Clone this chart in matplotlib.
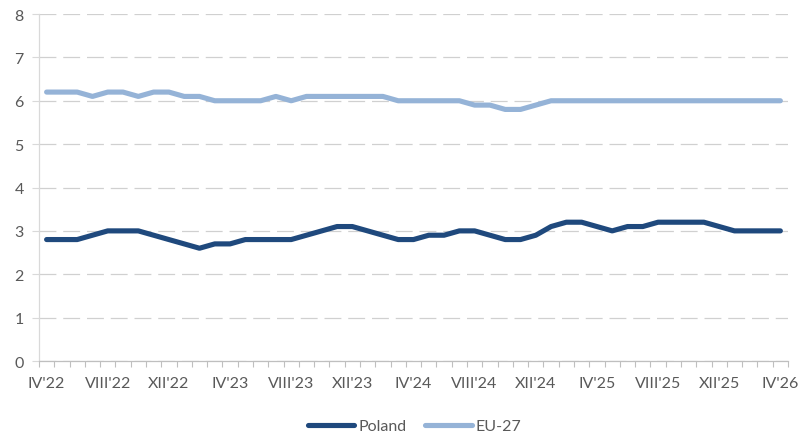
import matplotlib
matplotlib.use("Agg")
import matplotlib.pyplot as plt
from matplotlib.ticker import FixedLocator, MultipleLocator

plt.rcParams['font.family'] = ['Lato', 'DejaVu Sans']

# Monthly observations, IV'22 .. IV'26
tick_labels = ["IV'22", "VIII'22", "XII'22", "IV'23", "VIII'23", "XII'23", "IV'24",
               "VIII'24", "XII'24", "IV'25", "VIII'25", "XII'25", "IV'26"]

poland = [2.8, 2.8, 2.8, 2.9, 3.0, 3.0, 3.0, 2.9, 2.8, 2.7, 2.6, 2.7, 2.7,
          2.8, 2.8, 2.8, 2.8, 2.9, 3.0, 3.1, 3.1, 3.0, 2.9, 2.8, 2.8,
          2.9, 2.9, 3.0, 3.0, 2.9, 2.8, 2.8, 2.9, 3.1, 3.2, 3.2, 3.1,
          3.0, 3.1, 3.1, 3.2, 3.2, 3.2, 3.2, 3.1, 3.0, 3.0, 3.0, 3.0]

eu27 = [6.2, 6.2, 6.2, 6.1, 6.2, 6.2, 6.1, 6.2, 6.2, 6.1, 6.1, 6.0, 6.0,
        6.0, 6.0, 6.1, 6.0, 6.1, 6.1, 6.1, 6.1, 6.1, 6.1, 6.0, 6.0,
        6.0, 6.0, 6.0, 5.9, 5.9, 5.8, 5.8, 5.9, 6.0, 6.0, 6.0, 6.0,
        6.0, 6.0, 6.0, 6.0, 6.0, 6.0, 6.0, 6.0, 6.0, 6.0, 6.0, 6.0]

x = list(range(len(poland)))
text_color = "#595959"
fs = 11.5
lw = 3.7

fig = plt.figure(figsize=(8.05, 4.35), dpi=100)
ax = fig.add_axes([0.0484, 0.1678, 0.9305, 0.7977])

ax.plot(x, poland, color="#1F497D", lw=lw, solid_capstyle="round",
        solid_joinstyle="round", label="Poland", zorder=3)
ax.plot(x, eu27, color="#95B3D7", lw=lw, solid_capstyle="round",
        solid_joinstyle="round", label="EU-27", zorder=3)

ax.set_xlim(-0.5, len(x) - 0.5)
ax.set_ylim(0, 8)

ax.xaxis.set_major_locator(FixedLocator(list(range(0, len(x), 4))))
ax.set_xticklabels(tick_labels)
ax.xaxis.set_minor_locator(FixedLocator([i - 0.5 for i in range(len(x) + 1)]))
ax.tick_params(axis="x", which="major", length=0, pad=11, labelsize=fs,
               labelcolor=text_color)
ax.tick_params(axis="x", which="minor", length=4, width=0.8, color="#bfbfbf",
               direction="out")

ax.yaxis.set_major_locator(MultipleLocator(1))
ax.tick_params(axis="y", length=5, width=0.8, color="#d9d9d9", pad=6,
               labelsize=fs, labelcolor=text_color)

ax.grid(axis="y", color="#d0d0d0", lw=0.9, ls=(0, (13.5, 5.5)), zorder=0)

for side in ("top", "right"):
    ax.spines[side].set_visible(False)
ax.spines["left"].set_color("#d9d9d9")
ax.spines["left"].set_linewidth(0.9)
ax.spines["bottom"].set_color("#bfbfbf")
ax.spines["bottom"].set_linewidth(0.9)

leg = fig.legend(loc="center", bbox_to_anchor=(0.515, 0.018), ncol=2, frameon=False,
                 fontsize=fs, handlelength=2.9, handletextpad=0.25,
                 columnspacing=1.2, labelcolor=text_color)
for h in leg.get_lines():
    h.set_linewidth(lw)

fig.savefig("out.png", dpi=100)
